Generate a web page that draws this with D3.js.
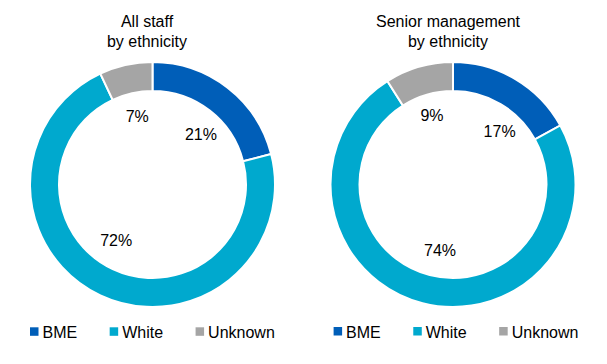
<!DOCTYPE html>
<html>
<head>
<meta charset="utf-8">
<script src="https://cdn.jsdelivr.net/npm/d3@7"></script>
<style>
  html, body { margin: 0; padding: 0; background: #fff; }
  svg { display: block; font-family: "Liberation Sans", Arial, sans-serif; }
</style>
</head>
<body>
<svg id="chart" width="607" height="364"></svg>
<script>
// ---- data ----
const categories = ["BME", "White", "Unknown"];
const allStaffValues = [21, 72, 7];
const seniorValues = [17, 74, 9];
const chartTitles = [["All staff", "by ethnicity"], ["Senior management", "by ethnicity"]];
const colors = ["#005EB8", "#00A9CE", "#A5A5A5"];

const svg = d3.select("#chart");

// layout (label nudges are relative to the computed arc centroid)
const panels = [
  { values: allStaffValues, title: chartTitles[0], cx: 152.5, cy: 184.5, titleX: 147, legendX: 30, legendY: 327.3,
    nudge: [[5.5, 5], [-6.5, -7.5], [0, 0]] },
  { values: seniorValues, title: chartTitles[1], cx: 453, cy: 184.5, titleX: 448, legendX: 333.6, legendY: 327,
    nudge: [[11, 7], [4.5, -2], [-1.5, -2]] }
];

const outerR = 122.5, innerR = 93.5;
const pie = d3.pie().sort(null).value(d => d.v);
const arc = d3.arc().innerRadius(innerR).outerRadius(outerR);
const labelArc = d3.arc().innerRadius(70).outerRadius(70);

panels.forEach(p => {
  const data = categories.map((c, i) => ({ c, v: p.values[i], i }));
  const g = svg.append("g").attr("transform", `translate(${p.cx},${p.cy})`);
  const arcs = pie(data);
  g.selectAll("path").data(arcs).enter().append("path")
    .attr("d", arc)
    .attr("fill", d => colors[d.data.i])
    .attr("stroke", "#fff")
    .attr("stroke-width", 2);
  g.selectAll("text.lbl").data(arcs).enter().append("text")
    .attr("class", "lbl")
    .attr("transform", d => {
      const [x, y] = labelArc.centroid(d);
      const n = p.nudge[d.data.i];
      return `translate(${x + n[0]},${y + n[1]})`;
    })
    .attr("text-anchor", "middle")
    .attr("dy", "0.36em")
    .attr("font-size", 16)
    .attr("fill", "#000")
    .text(d => d.data.v + "%");

  // title
  const t = svg.append("text")
    .attr("x", p.titleX).attr("y", 27)
    .attr("text-anchor", "middle")
    .attr("font-size", 16)
    .attr("fill", "#000");
  p.title.forEach((line, k) => {
    t.append("tspan").attr("x", p.titleX).attr("dy", k === 0 ? 0 : 20).text(line);
  });

  // legend
  let x = p.legendX;
  categories.forEach((c, i) => {
    svg.append("rect")
      .attr("x", x).attr("y", p.legendY)
      .attr("width", 8.5).attr("height", 8.5)
      .attr("fill", colors[i]);
    const tx = svg.append("text")
      .attr("x", x + 12.5).attr("y", p.legendY + 10.7)
      .attr("font-size", 16)
      .attr("fill", "#000")
      .text(c);
    const w = tx.node().getComputedTextLength();
    x += 12.5 + w + 32.5;
  });
});
</script>
</body>
</html>
